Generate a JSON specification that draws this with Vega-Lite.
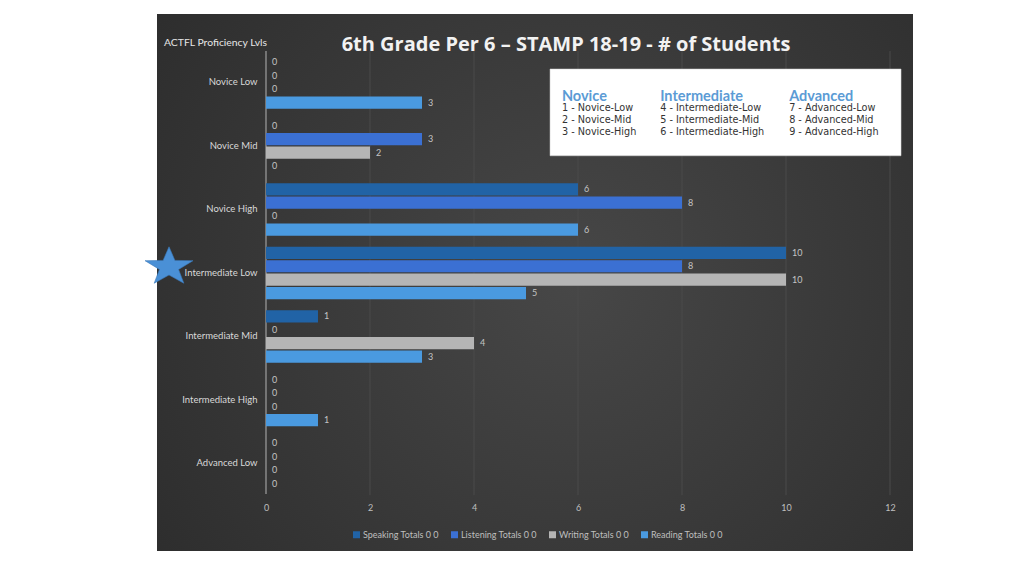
{
  "$schema": "https://vega.github.io/schema/vega-lite/v6.json",
  "width": 756,
  "height": 537,
  "autosize": "none",
  "padding": {"left": 157, "top": 14, "right": 111, "bottom": 25},
  "background": "white",
  "config": {"view": {"stroke": null}, "text": {"font": "Lato"}},
  "layer": [
    {
      "layer": [
        {
          "data": {"values": [{"a": 1}]},
          "mark": {"type": "rect", "fill": {"gradient": "radial", "x1": 0.55, "y1": 0.5, "x2": 0.55, "y2": 0.5, "r1": 0, "r2": 0.75, "stops": [{"offset": 0, "color": "#474747"}, {"offset": 1, "color": "#2a2a2a"}]}},
          "encoding": {
            "x": {"datum": -2.096, "type": "quantitative", "scale": {"domain": [-2.096, 12.442], "nice": false, "zero": false}, "axis": {"title": null, "values": [0, 2, 4, 6, 8, 10, 12], "offset": -50, "domain": false, "ticks": false, "grid": false, "labelPadding": 2, "labelFont": "Lato", "labelFontSize": 9, "labelColor": "#bfbfbf", "zindex": 2}},
            "x2": {"datum": 12.442},
            "y": {"datum": 0, "type": "quantitative", "scale": {"domain": [0, 100], "nice": false}, "axis": null},
            "y2": {"datum": 100}
          }
        },
        {
          "data": {"values": [{"g": 2}, {"g": 4}, {"g": 6}, {"g": 8}, {"g": 10}, {"g": 12}]},
          "mark": {"type": "rule", "color": "#4b4b4b", "strokeWidth": 1},
          "encoding": {
            "x": {"field": "g", "type": "quantitative", "scale": {"domain": [-2.096, 12.442], "nice": false, "zero": false}, "axis": {"title": null, "values": [0, 2, 4, 6, 8, 10, 12], "offset": -50, "domain": false, "ticks": false, "grid": false, "labelPadding": 2, "labelFont": "Lato", "labelFontSize": 9, "labelColor": "#bfbfbf", "zindex": 2}},
            "y": {"datum": 93.1, "type": "quantitative", "scale": {"domain": [0, 100], "nice": false}, "axis": null},
            "y2": {"datum": 10.4}
          }
        },
        {
          "data": {"values": [{"a": 1}]},
          "mark": {"type": "rule", "color": "#8a8a8a", "strokeWidth": 1.5},
          "encoding": {
            "x": {"datum": 0, "type": "quantitative", "scale": {"domain": [-2.096, 12.442], "nice": false, "zero": false}, "axis": {"title": null, "values": [0, 2, 4, 6, 8, 10, 12], "offset": -50, "domain": false, "ticks": false, "grid": false, "labelPadding": 2, "labelFont": "Lato", "labelFontSize": 9, "labelColor": "#bfbfbf", "zindex": 2}},
            "y": {"datum": 93.1, "type": "quantitative", "scale": {"domain": [0, 100], "nice": false}, "axis": null},
            "y2": {"datum": 10.6}
          }
        },
        {
          "data": {"values": [{"t": "6th Grade Per 6 – STAMP 18-19 - # of Students"}]},
          "mark": {"type": "text", "font": "Open Sans", "fontWeight": "bold", "fontSize": 20, "color": "#f2f2f2", "align": "center", "baseline": "middle"},
          "encoding": {
            "x": {"datum": 5.77, "type": "quantitative", "scale": {"domain": [-2.096, 12.442], "nice": false, "zero": false}, "axis": {"title": null, "values": [0, 2, 4, 6, 8, 10, 12], "offset": -50, "domain": false, "ticks": false, "grid": false, "labelPadding": 2, "labelFont": "Lato", "labelFontSize": 9, "labelColor": "#bfbfbf", "zindex": 2}},
            "y": {"datum": 94.2, "type": "quantitative", "scale": {"domain": [0, 100], "nice": false}, "axis": null},
            "text": {"field": "t"}
          }
        },
        {
          "data": {"values": [{"t": "ACTFL Proficiency Lvls"}]},
          "mark": {"type": "text", "font": "Lato", "fontSize": 10.4, "color": "#e6e6e6", "align": "left", "baseline": "middle"},
          "encoding": {
            "x": {"datum": -1.962, "type": "quantitative", "scale": {"domain": [-2.096, 12.442], "nice": false, "zero": false}, "axis": {"title": null, "values": [0, 2, 4, 6, 8, 10, 12], "offset": -50, "domain": false, "ticks": false, "grid": false, "labelPadding": 2, "labelFont": "Lato", "labelFontSize": 9, "labelColor": "#bfbfbf", "zindex": 2}},
            "y": {"datum": 94.6, "type": "quantitative", "scale": {"domain": [0, 100], "nice": false}, "axis": null},
            "text": {"field": "t"}
          }
        },
        {
          "data": {"values": [{"a": 1}]},
          "mark": {"type": "point", "filled": true, "fill": "#4a90d6", "stroke": "#3a78b8", "strokeWidth": 0.6, "opacity": 1, "size": 2540, "shape": "M0,-0.8L0.235,-0.259L0.951,-0.247L0.38,0.099L0.588,0.647L0,0.32L-0.588,0.647L-0.38,0.099L-0.951,-0.247L-0.235,-0.259Z"},
          "encoding": {
            "x": {"datum": -1.865, "type": "quantitative", "scale": {"domain": [-2.096, 12.442], "nice": false, "zero": false}, "axis": {"title": null, "values": [0, 2, 4, 6, 8, 10, 12], "offset": -50, "domain": false, "ticks": false, "grid": false, "labelPadding": 2, "labelFont": "Lato", "labelFontSize": 9, "labelColor": "#bfbfbf", "zindex": 2}},
            "y": {"datum": 52.9, "type": "quantitative", "scale": {"domain": [0, 100], "nice": false}, "axis": null}
          }
        },
        {
          "data": {"values": [{"a": 1}]},
          "mark": {"type": "rect", "fill": "#ffffff", "stroke": "#d0d0d0", "strokeWidth": 0.5},
          "encoding": {
            "x": {"datum": 5.462, "type": "quantitative", "scale": {"domain": [-2.096, 12.442], "nice": false, "zero": false}, "axis": {"title": null, "values": [0, 2, 4, 6, 8, 10, 12], "offset": -50, "domain": false, "ticks": false, "grid": false, "labelPadding": 2, "labelFont": "Lato", "labelFontSize": 9, "labelColor": "#bfbfbf", "zindex": 2}},
            "x2": {"datum": 12.212},
            "y": {"datum": 89.76, "type": "quantitative", "scale": {"domain": [0, 100], "nice": false}, "axis": null},
            "y2": {"datum": 73.6}
          }
        },
        {
          "data": {"values": [{"t": "Novice", "x": 5.69}, {"t": "Intermediate", "x": 7.58}, {"t": "Advanced", "x": 10.06}]},
          "mark": {"type": "text", "font": "Lato", "fontWeight": "bold", "fontSize": 14.5, "color": "#5b9bd5", "align": "left", "baseline": "middle"},
          "encoding": {
            "x": {"field": "x", "type": "quantitative", "scale": {"domain": [-2.096, 12.442], "nice": false, "zero": false}, "axis": {"title": null, "values": [0, 2, 4, 6, 8, 10, 12], "offset": -50, "domain": false, "ticks": false, "grid": false, "labelPadding": 2, "labelFont": "Lato", "labelFontSize": 9, "labelColor": "#bfbfbf", "zindex": 2}},
            "y": {"datum": 84.6, "type": "quantitative", "scale": {"domain": [0, 100], "nice": false}, "axis": null},
            "text": {"field": "t"}
          }
        },
        {
          "data": {"values": [
            {"t": "1 - Novice-Low", "x": 5.69, "y": 82.44},
            {"t": "2 - Novice-Mid", "x": 5.69, "y": 80.26},
            {"t": "3 - Novice-High", "x": 5.69, "y": 78.08},
            {"t": "4 - Intermediate-Low", "x": 7.58, "y": 82.44},
            {"t": "5 - Intermediate-Mid", "x": 7.58, "y": 80.26},
            {"t": "6 - Intermediate-High", "x": 7.58, "y": 78.08},
            {"t": "7 - Advanced-Low", "x": 10.06, "y": 82.44},
            {"t": "8 - Advanced-Mid", "x": 10.06, "y": 80.26},
            {"t": "9 - Advanced-High", "x": 10.06, "y": 78.08}
          ]},
          "mark": {"type": "text", "font": "DejaVu Sans", "fontSize": 9.7, "color": "#333333", "align": "left", "baseline": "middle"},
          "encoding": {
            "x": {"field": "x", "type": "quantitative", "scale": {"domain": [-2.096, 12.442], "nice": false, "zero": false}, "axis": {"title": null, "values": [0, 2, 4, 6, 8, 10, 12], "offset": -50, "domain": false, "ticks": false, "grid": false, "labelPadding": 2, "labelFont": "Lato", "labelFontSize": 9, "labelColor": "#bfbfbf", "zindex": 2}},
            "y": {"field": "y", "type": "quantitative", "scale": {"domain": [0, 100], "nice": false}, "axis": null},
            "text": {"field": "t"}
          }
        }
      ]
    },
    {
      "data": {"values": [
        {"level": "Novice Low", "skill": "Speaking", "value": 0},
        {"level": "Novice Low", "skill": "Listening", "value": 0},
        {"level": "Novice Low", "skill": "Writing", "value": 0},
        {"level": "Novice Low", "skill": "Reading", "value": 3},
        {"level": "Novice Mid", "skill": "Speaking", "value": 0},
        {"level": "Novice Mid", "skill": "Listening", "value": 3},
        {"level": "Novice Mid", "skill": "Writing", "value": 2},
        {"level": "Novice Mid", "skill": "Reading", "value": 0},
        {"level": "Novice High", "skill": "Speaking", "value": 6},
        {"level": "Novice High", "skill": "Listening", "value": 8},
        {"level": "Novice High", "skill": "Writing", "value": 0},
        {"level": "Novice High", "skill": "Reading", "value": 6},
        {"level": "Intermediate Low", "skill": "Speaking", "value": 10},
        {"level": "Intermediate Low", "skill": "Listening", "value": 8},
        {"level": "Intermediate Low", "skill": "Writing", "value": 10},
        {"level": "Intermediate Low", "skill": "Reading", "value": 5},
        {"level": "Intermediate Mid", "skill": "Speaking", "value": 1},
        {"level": "Intermediate Mid", "skill": "Listening", "value": 0},
        {"level": "Intermediate Mid", "skill": "Writing", "value": 4},
        {"level": "Intermediate Mid", "skill": "Reading", "value": 3},
        {"level": "Intermediate High", "skill": "Speaking", "value": 0},
        {"level": "Intermediate High", "skill": "Listening", "value": 0},
        {"level": "Intermediate High", "skill": "Writing", "value": 0},
        {"level": "Intermediate High", "skill": "Reading", "value": 1},
        {"level": "Advanced Low", "skill": "Speaking", "value": 0},
        {"level": "Advanced Low", "skill": "Listening", "value": 0},
        {"level": "Advanced Low", "skill": "Writing", "value": 0},
        {"level": "Advanced Low", "skill": "Reading", "value": 0}
      ]},
      "encoding": {
        "y": {
          "field": "level", "type": "nominal",
          "sort": ["Novice Low", "Novice Mid", "Novice High", "Intermediate Low", "Intermediate Mid", "Intermediate High", "Advanced Low"],
          "scale": {"paddingInner": 0, "paddingOuter": 0.728, "align": 0.397},
          "axis": {"title": null, "offset": -109, "domain": false, "ticks": false, "grid": false, "labelPadding": 9, "labelFont": "Lato", "labelFontSize": 9.5, "labelColor": "#d9d9d9", "labelLimit": 200, "zindex": 2}
        },
        "yOffset": {
          "field": "skill", "type": "nominal",
          "sort": ["Speaking", "Listening", "Writing", "Reading"],
          "scale": {"paddingInner": 0.09, "paddingOuter": 0.405}
        },
        "x": {
          "field": "value", "type": "quantitative",
          "scale": {"domain": [-2.096, 12.442], "nice": false, "zero": false},
          "axis": {"title": null, "values": [0, 2, 4, 6, 8, 10, 12], "offset": -50, "domain": false, "ticks": false, "grid": false, "labelPadding": 2, "labelFont": "Lato", "labelFontSize": 9, "labelColor": "#bfbfbf", "zindex": 2}
        }
      },
      "layer": [
        {
          "mark": {"type": "bar"},
          "encoding": {
            "x2": {"datum": 0},
            "color": {
              "field": "skill", "type": "nominal",
              "sort": ["Speaking", "Listening", "Writing", "Reading"],
              "scale": {"domain": ["Speaking", "Listening", "Writing", "Reading"], "range": ["#2163a6", "#3b70d3", "#b5b5b5", "#4a9ae0"]},
              "legend": {"title": null, "orient": "none", "legendX": 195, "legendY": 516, "direction": "horizontal", "symbolType": "square", "symbolSize": 49, "symbolStrokeWidth": 0, "labelFont": "Lato", "labelFontSize": 9, "labelColor": "#bfbfbf", "labelOffset": 2, "columnPadding": 11, "labelExpr": "datum.label + ' Totals 0 0'", "zindex": 2}
            }
          }
        },
        {
          "mark": {"type": "text", "align": "left", "baseline": "middle", "dx": 6, "font": "Lato", "fontSize": 9, "color": "#c4c4c4"},
          "encoding": {"text": {"field": "value", "type": "quantitative"}}
        }
      ]
    }
  ],
  "resolve": {"scale": {"y": "independent"}}
}
